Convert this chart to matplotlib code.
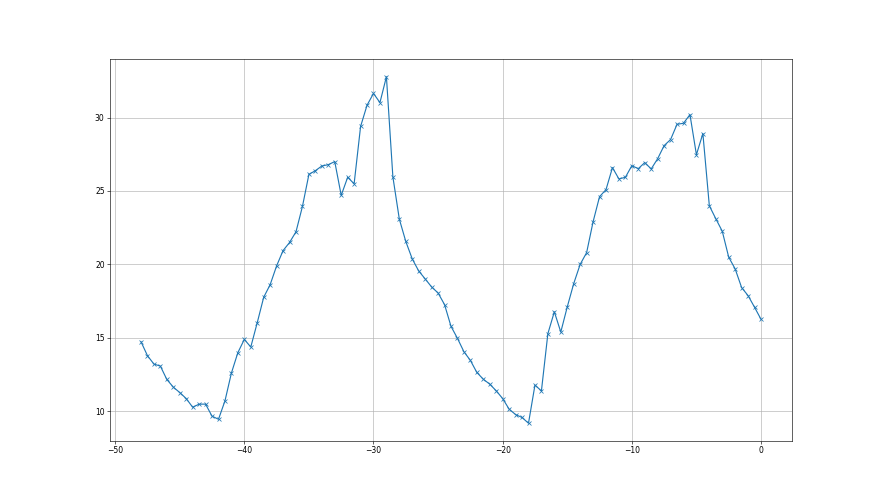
import matplotlib
matplotlib.use("Agg")
import matplotlib.pyplot as plt

x_vals = [-48.0, -47.5, -47.0, -46.5, -46.0, -45.5, -45.0, -44.5, -44.0, -43.5,
          -43.0, -42.5, -42.0, -41.5, -41.0, -40.5, -40.0, -39.5, -39.0, -38.5,
          -38.0, -37.5, -37.0, -36.5, -36.0, -35.5, -35.0, -34.5, -34.0, -33.5,
          -33.0, -32.5, -32.0, -31.5, -31.0, -30.5, -30.0, -29.5, -29.0, -28.5,
          -28.0, -27.5, -27.0, -26.5, -26.0, -25.5, -25.0, -24.5, -24.0, -23.5,
          -23.0, -22.5, -22.0, -21.5, -21.0, -20.5, -20.0, -19.5, -19.0, -18.5,
          -18.0, -17.5, -17.0, -16.5, -16.0, -15.5, -15.0, -14.5, -14.0, -13.5,
          -13.0, -12.5, -12.0, -11.5, -11.0, -10.5, -10.0, -9.5, -9.0, -8.5,
          -8.0, -7.5, -7.0, -6.5, -6.0, -5.5, -5.0, -4.5, -4.0, -3.5,
          -3.0, -2.5, -2.0, -1.5, -1.0, -0.5, 0.0]

y_vals = [14.73, 13.78, 13.21, 13.07, 12.16, 11.64, 11.27, 10.86, 10.27, 10.48,
          10.48, 9.66, 9.45, 10.70, 12.60, 13.99, 14.89, 14.37, 16.03, 17.76,
          18.62, 19.90, 20.94, 21.49, 22.22, 23.95, 26.13, 26.38, 26.70, 26.79,
          27.00, 24.70, 25.93, 25.49, 29.39, 30.84, 31.64, 31.02, 32.78, 25.96,
          23.08, 21.56, 20.37, 19.55, 19.01, 18.46, 18.05, 17.26, 15.78, 14.96,
          14.05, 13.46, 12.64, 12.18, 11.84, 11.39, 10.86, 10.14, 9.77, 9.57,
          9.18, 11.78, 11.38, 15.28, 16.77, 15.39, 17.10, 18.69, 20.00, 20.80,
          22.90, 24.61, 25.09, 26.59, 25.82, 25.93, 26.72, 26.52, 26.93, 26.50,
          27.20, 28.09, 28.50, 29.54, 29.61, 30.20, 27.47, 28.91, 23.99, 23.11,
          22.26, 20.49, 19.69, 18.42, 17.87, 17.08, 16.26]

fig, ax = plt.subplots(figsize=(16, 9), dpi=55)
ax.plot(x_vals, y_vals, marker="x", color="#1f77b4")
ax.grid(True)
fig.savefig("out.png", dpi=55)
